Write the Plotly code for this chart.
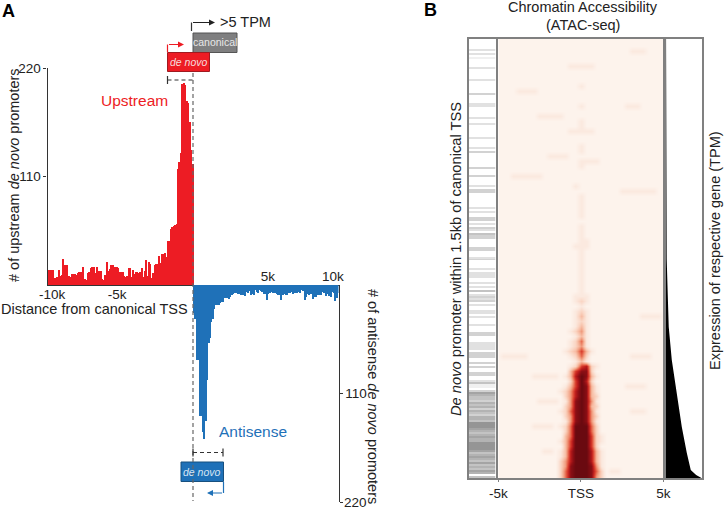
import numpy as np
import plotly.graph_objects as go

W, H = 724, 509

# histogram counts per 100 bp bin, upstream runs -10k -> 0, antisense 0 -> 10k
UPSTREAM = [15, 15, 15, 15, 7, 7, 8, 15, 9, 10, 26, 20, 19, 20, 9, 8, 11, 11, 11, 10,
            12, 13, 13, 7, 18, 6, 5, 12, 13, 17, 18, 18, 12, 18, 14, 14, 14, 6, 5, 10,
            23, 14, 16, 20, 20, 17, 18, 18, 17, 13, 13, 13, 9, 8, 9, 17, 17, 8, 15, 11,
            13, 13, 12, 13, 17, 8, 14, 25, 9, 23, 21, 7, 12, 20, 21, 21, 29, 22, 31, 31,
            32, 28, 45, 45, 57, 59, 60, 61, 62, 118, 125, 134, 204, 205, 203, 187, 185, 165, 137, 123]
ANTISENSE = [28, 34, 76, 76, 133, 133, 149, 156, 138, 96, 59, 54, 37, 34, 24,
             20, 20, 20, 18, 17, 17, 13, 13, 13, 14, 12, 10, 9, 8, 8, 9, 9, 10, 10, 10,
             11, 7, 8, 6, 10, 9, 10, 5, 7, 8, 5, 6, 7, 9, 9, 15, 9, 8, 7, 8,
             6, 8, 9, 10, 10, 15, 10, 9, 10, 10, 8, 8, 7, 9, 8, 8, 8, 7, 8, 5,
             6, 15, 12, 9, 10, 9, 9, 14, 12, 12, 10, 10, 10, 7, 8, 8, 11, 9, 11, 12,
             7, 8, 16, 13, 8]

# ATAC signal levels 0-9, one string per row, top to bottom, 33 columns -5k..5k
ATAC_ROWS = [
    "00000000000 00000000000 00000000000",
    "00000000000 00000000000 00000000000",
    "00000000000 00000000000 00001110000",
    "00000000000 00000000000 00000000000",
    "00000000000 00000000000 00000000000",
    "00000000000 00011111000 00000000000",
    "00000000000 00000000000 00000000000",
    "00000000000 00000000000 00000000000",
    "00000000000 00000000000 00000000000",
    "00000000000 00000100000 00000000000",
    "00001111000 00000000000 00000000000",
    "00000000000 00000000000 00000000000",
    "00000000000 00000000000 00000000000",
    "00000000000 00000100000 00011100000",
    "00000000000 00000000000 00000000000",
    "00000000111 11000000000 00000000000",
    "00000000000 00000100000 00000000000",
    "00000000000 00000100000 00000000000",
    "00000000000 00011111000 00000000000",
    "00000000000 00000000000 00000000000",
    "00000000000 00000000000 00000000000",
    "00000000000 00000100000 00000000000",
    "00000000000 00000100000 00000000000",
    "00000000001 11100000000 00000000000",
    "00000000000 00000111100 00000000000",
    "00000000000 00000100000 00000000000",
    "00000000000 00000000000 00000000000",
    "00011111100 00000000000 00000000000",
    "00000000000 00000000000 00000000000",
    "00000000000 00001000000 00000000000",
    "00000000000 00000000000 00111111100",
    "00000000000 00000100000 00000000000",
    "00000000000 00000100000 00000000000",
    "00000000000 00000100000 00000000000",
    "00000000000 00000100000 00000000000",
    "00000000000 00000100000 00000000000",
    "00000000000 00000000000 00000000000",
    "00000000000 00000100000 00000000000",
    "00000000000 00000100000 00000000000",
    "00000000000 00000100000 00000000000",
    "00000000000 00000110000 00000000000",
    "00000000000 00001110000 00000000000",
    "00000000000 00000100000 00000000000",
    "00000000000 00000100000 00000000000",
    "00000000000 00000100000 00000000000",
    "00000000000 00000100000 00000000000",
    "00000000000 00000100000 00000000000",
    "00000000000 00000100000 00000000000",
    "00000000000 00000100000 00000000000",
    "00000000000 00000100000 00000000000",
    "00000000000 00000100000 00000000000",
    "00000000000 00001110000 00000000000",
    "00000000000 00001210000 00000000000",
    "00000000000 00000100000 00000000000",
    "00000000000 00001210000 00000000000",
    "00000000000 00001310000 00000011110",
    "00000000000 00001210000 00000000000",
    "00000000000 00001310000 00000000000",
    "00000000000 00012410000 00000000000",
    "00000000000 00001310000 00000000000",
    "00000000000 00012510000 00000000000",
    "00000000000 00012410000 00000000000",
    "00000000000 00123631000 00000000000",
    "01111100000 00012520000 00001111000",
    "00000000000 00001310000 00000000000",
    "00000000000 00012672100 00000000000",
    "00000000000 00036882000 00000000000",
    "00000001111 10137983100 00000000000",
    "00000000000 00026972000 00000000000",
    "00000000000 00136983100 00011110000",
    "00000000000 01247983100 00000000000",
    "00000000000 00247983200 00000000000",
    "00000000111 10148984100 00000000000",
    "00000000000 00248983200 00000000000",
    "00000000000 01258984100 00001110000",
    "00000000000 00248984200 00000000000",
    "00000000000 00148984100 00000000000",
    "00000001111 01259995200 00000000000",
    "00000000000 00259995200 00000000000",
    "00000000000 00359996210 00000000000",
    "00000000000 01369996210 00000000000",
    "00000000000 00369996200 00000000000",
    "00000000011 01379997310 00000000000",
    "00000000000 01379997310 00000000000",
    "00000000000 02479997310 00000000000",
    "00000000000 02489998410 00000000000",
    "00000000000 02589998520 11000000000",
    "00000000000 02589998420 00000000000",
]

# gray level of the overlap track, 2 px cells, top to bottom
OVERLAP_CELLS = ("0000020201" "0000200000" "2000000300" "0022000002" "0020000002"
                 "0000203000" "0000300030" "0002033000" "0000202003" "3020320433"
                 "0000330002" "3000020222" "0020204023" "2302002202" "0002000330"
                 "0022220333" "0030300330" "0241103654" "4354535435" "5477765456"
                 "5577776456" "5464546504")

# sorted expression of the respective gene
EXPR_RANK = [0, 60, 160, 220, 254, 288, 321, 354, 388, 414, 431, 436, 438, 439]
EXPR_TPM = [1, 1.5, 2.3, 2.8, 5.6, 8.5, 17, 31, 45, 59, 70, 85, 95, 100]

RED = "#ed1c24"
BLUE = "#1f71b8"
DARK = "#333333"
GREY = "#808080"
FONT = "Liberation Sans"
DASH = "4px,3px"


def px(x):
    return x / W


def py(y):
    return 1 - y / H


atac = np.array([[int(c) for c in row.replace(" ", "")] for row in ATAC_ROWS])
overlap = np.array([[int(c)] for c in OVERLAP_CELLS])
bins_up = np.arange(-9950, 0, 100)
bins_down = np.arange(50, 10000, 100)

fig = go.Figure()
fig.add_trace(go.Bar(x=bins_up, y=UPSTREAM, marker=dict(color=RED, line_width=0), width=100,
                     xaxis="x", yaxis="y"))
fig.add_trace(go.Bar(x=bins_down, y=ANTISENSE, marker=dict(color=BLUE, line_width=0), width=100,
                     xaxis="x2", yaxis="y2"))
fig.add_trace(go.Heatmap(z=atac, x=np.linspace(-5000, 5000, 33), y=np.arange(88), zmin=0, zmax=9,
                         zsmooth="best", showscale=False, xaxis="x3", yaxis="y3",
                         colorscale=[[0, "#fdf3ec"], [0.11, "#fbe9df"], [0.22, "#fad6c4"],
                                     [0.33, "#f7bca3"], [0.44, "#f09a7c"], [0.55, "#e86a50"],
                                     [0.66, "#d83c2c"], [0.77, "#bc1c1c"], [0.88, "#8e0f15"],
                                     [1, "#6a0a10"]]))
fig.add_trace(go.Heatmap(z=overlap, y=np.arange(len(overlap)), zmin=0, zmax=9, showscale=False,
                         xaxis="x4", yaxis="y4", colorscale=[[0, "#ffffff"], [1, "#777777"]]))
fig.add_trace(go.Scatter(x=EXPR_TPM, y=EXPR_RANK, mode="lines", line_width=0, fill="tozerox",
                         fillcolor="black", xaxis="x5", yaxis="y5"))

tick_font = dict(size=13.5, color="#222222")
frame = dict(showline=True, linecolor=GREY, linewidth=1.5, mirror=True, showgrid=False, zeroline=False)
hidden = dict(showticklabels=False, ticks="")

fig.update_layout(
    template="none",
    width=W, height=H, margin=dict(l=0, r=0, t=0, b=0), showlegend=False,
    paper_bgcolor="white", plot_bgcolor="rgba(0,0,0,0)", bargap=0,
    font=dict(family=FONT, size=14, color="#222222"),
    xaxis=dict(domain=[px(47.5), px(338.5)], range=[-10000, 10000], anchor="y", side="bottom",
               tickvals=[-9690, -5220], ticktext=["-10k", "-5k"], ticks="", showline=True,
               ticklabelstandoff=-3, linecolor=DARK, linewidth=1.2, showgrid=False, zeroline=False,
               tickfont=tick_font),
    yaxis=dict(domain=[py(285), py(68)], range=[0, 220], anchor="x", tickvals=[110, 220],
               ticks="outside", ticklen=3, tickcolor=DARK, showline=True, linecolor=DARK,
               linewidth=1.2, showgrid=False, zeroline=False, tickfont=tick_font),
    xaxis2=dict(domain=[px(47.5), px(338.5)], range=[-10000, 10000], anchor="y2", side="top",
                tickvals=[5150, 9620], ticktext=["5k", "10k"], ticks="", showline=False,
                showgrid=False, zeroline=False, tickfont=tick_font),
    yaxis2=dict(domain=[py(502), py(285)], range=[220, 0], anchor="x2", side="right",
                tickvals=[110, 220], ticks="outside", ticklen=3, tickcolor=DARK, showline=True,
                linecolor=DARK, linewidth=1.2, showgrid=False, zeroline=False, tickfont=tick_font,
                ticktext=["110", ""]),
    xaxis3=dict(domain=[px(498.3), px(663.3)], range=[-5000, 5000], anchor="y3",
                tickvals=[-5000, 0, 5000], ticktext=["-5k", "TSS", "5k"], ticks="outside",
                ticklen=2, tickcolor=GREY, tickfont=tick_font, **frame),
    yaxis3=dict(domain=[py(478), py(39)], range=[87.5, -0.5], anchor="x3", **hidden, **frame),
    xaxis4=dict(domain=[px(468.5), px(495.5)], anchor="y4", **hidden, **frame),
    yaxis4=dict(domain=[py(478), py(39)], range=[219.5, -0.5], anchor="x4", **hidden, **frame),
    xaxis5=dict(domain=[px(665.7), px(701.5)], range=[0, 100], anchor="y5", **hidden, **frame),
    yaxis5=dict(domain=[py(478), py(39)], range=[439, 0], anchor="x5", **hidden, **frame),
)


def line(x0, y0, x1, y1, color=DARK, width=1.2, dash="solid"):
    fig.add_shape(type="line", xref="paper", yref="paper", x0=px(x0), y0=py(y0), x1=px(x1), y1=py(y1),
                  line=dict(color=color, width=width, dash=dash), layer="above")


def box(x0, y0, x1, y1, fill, border):
    fig.add_shape(type="rect", xref="paper", yref="paper", x0=px(x0), y0=py(y0), x1=px(x1), y1=py(y1),
                  fillcolor=fill, line=dict(color=border, width=1), layer="above")


def text(x, y, s, size=14, color="#222222", angle=0, anchor="center", bold=False):
    fig.add_annotation(xref="paper", yref="paper", x=px(x), y=py(y), text=f"<b>{s}</b>" if bold else s,
                       showarrow=False, textangle=angle, xanchor=anchor, yanchor="middle",
                       font=dict(family=FONT, size=size, color=color))


def arrow(x0, y, x1, color):
    fig.add_annotation(xref="paper", yref="paper", x=px(x1), y=py(y), ax=x0 - x1, ay=0, axref="pixel",
                       ayref="pixel", text="", showarrow=True, arrowhead=2, arrowsize=1,
                       arrowwidth=1.2, arrowcolor=color)


# gene models above and below panel A
box(193, 33, 237, 52.5, "#7f7f80", "#555555")
box(167.5, 52.5, 209.5, 71.5, RED, "#a01a20")
box(181, 462, 223.5, 481.5, BLUE, "#17507f")
text(215, 42.5, "canonical", size=10.5, color="#e8e8e8")
text(188.5, 62.5, "<i>de novo</i>", size=10.5, color="#f6dcdc")
text(202, 472, "<i>de novo</i>", size=10.5, color="#d8e6f4")

# TSS guide and the dashed brackets
line(193, 73, 193, 501, color="#666666", dash=DASH)
line(167.5, 80, 193, 80, dash=DASH)
line(167.5, 76, 167.5, 84)
line(193, 452.5, 223, 452.5, dash=DASH)
line(193, 448.5, 193, 456.5)
line(223, 448.5, 223, 456.5)

# transcription arrows
line(191.5, 31, 191.5, 22.5)
arrow(191.5, 22.5, 215, "#222222")
line(167.5, 52, 167.5, 44.5, color=RED)
arrow(167.5, 44.5, 184, RED)
line(223.5, 482, 223.5, 493, color=BLUE)
arrow(223.5, 493, 207, BLUE)

text(8, 11, "A", size=18, bold=True, color="black")
text(430, 10, "B", size=18, bold=True, color="black")
text(218, 22, "&gt;5 TPM", size=14.5, anchor="left")
text(134, 100.5, "Upstream", size=15.5, color=RED)
text(253, 431, "Antisense", size=15.5, color=BLUE)
text(94, 309, "Distance from canonical TSS", size=14.5)
text(14, 175, "# of upstream <i>de novo</i> promoters", angle=-90, size=14.5)
text(373, 396, "# of antisense <i>de novo</i> promoters", angle=90, size=14.5)
text(583, 7, "Chromatin Accessibility", size=14.5)
text(583, 25, "(ATAC-seq)", size=14.5)
text(456, 259, "<i>De novo</i> promoter within 1.5kb of canonical TSS", angle=-90, size=14.7)
text(715, 251, "Expression of respective gene (TPM)", angle=-90, size=14.5)
# plotly drops this tick label at the foot of the page
text(342, 502, "220", size=13.5, anchor="left")

# the page's default body margin would push the figure out of the window
fig.write_html("out.html", config=dict(displayModeBar=False),
               post_script="document.body.style.margin='0';")
